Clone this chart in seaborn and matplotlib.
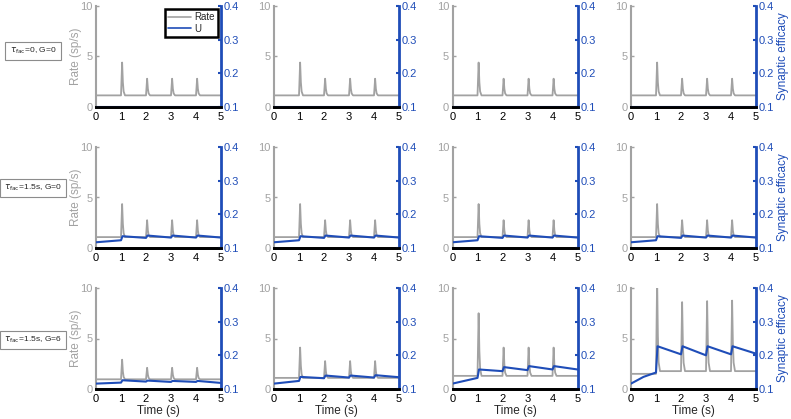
import numpy as np
import pandas as pd
import matplotlib
matplotlib.use("Agg")
import matplotlib.pyplot as plt
from matplotlib.lines import Line2D
import seaborn as sns

# ---------------- data ----------------
X_TICKS = [0, 1, 2, 3, 4, 5]
RATE_TICKS = [0, 5, 10]
U_TICKS = [0.1, 0.2, 0.3, 0.4]
ROW_LABELS = [r"$\tau_{\rm fac}$=0, G=0",
              r"$\tau_{\rm fac}$=1.5s, G=0",
              r"$\tau_{\rm fac}$=1.5s, G=6"]
STIM_TIMES = [1, 2, 3, 4]
# shape of one rate transient (time offsets after stimulus, fraction of peak excess)
SPIKE_DT = [0.0, 0.045, 0.075, 0.105, 0.16]
SPIKE_FRAC = [0.0, 1.0, 0.40, 0.12, 0.0]

# rate baseline before first stimulus / after, per row x column
RATE_BASE_PRE = [[1.15, 1.15, 1.15, 1.15],
                 [1.08, 1.08, 1.08, 1.08],
                 [0.96, 1.10, 1.30, 1.50]]
RATE_BASE_POST = [[1.15, 1.15, 1.15, 1.15],
                  [1.08, 1.08, 1.08, 1.08],
                  [0.96, 1.10, 1.30, 1.77]]
RATE_PEAKS_ROW1 = [[4.4, 2.8, 2.8, 2.8], [4.4, 2.8, 2.8, 2.8],
                   [4.4, 2.8, 2.8, 2.8], [4.4, 2.8, 2.8, 2.8]]
RATE_PEAKS_ROW2 = [[4.35, 2.75, 2.75, 2.75], [4.35, 2.75, 2.75, 2.75],
                   [4.35, 2.75, 2.75, 2.75], [4.35, 2.75, 2.75, 2.75]]
RATE_PEAKS_ROW3 = [[2.9, 2.1, 2.1, 2.1], [4.1, 2.76, 2.76, 2.76],
                   [7.5, 4.1, 4.1, 4.1], [11.0, 8.6, 8.7, 8.75]]

U_TIME = [0, 1.0, 1.06, 2.0, 2.06, 3.0, 3.06, 4.0, 4.06, 5.0]
U_TIME_CURVED = [0, 0.5, 1.0, 1.06, 2.0, 2.06, 3.0, 3.06, 4.0, 4.06, 5.0]
U_ROW1 = [[0.1, 0.1, 0.1, 0.1, 0.1, 0.1, 0.1, 0.1, 0.1, 0.1]] * 4
U_ROW2 = [[0.117, 0.123, 0.135, 0.130, 0.137, 0.131, 0.137, 0.131, 0.137, 0.131]] * 4
U_ROW3_C1 = [0.116, 0.119, 0.126, 0.122, 0.125, 0.121, 0.124, 0.121, 0.124, 0.118]
U_ROW3_C2 = [0.116, 0.124, 0.136, 0.132, 0.140, 0.134, 0.140, 0.134, 0.141, 0.135]
U_ROW3_C3 = [0.116, 0.133, 0.158, 0.153, 0.165, 0.156, 0.168, 0.158, 0.168, 0.158]
U_ROW3_C4 = [0.116, 0.136, 0.149, 0.227, 0.203, 0.227, 0.200, 0.227, 0.203, 0.227, 0.205]

# ---------------- style ----------------
sns.set_style("white")
plt.rcParams["font.family"] = ["Liberation Sans", "DejaVu Sans"]
plt.rcParams["mathtext.fontset"] = "dejavusans"
GRAY = "#a2a2a2"
BLUE = "#1f4db8"

W, H = 791, 419
fig = plt.figure(figsize=(W / 100, H / 100), dpi=100)

COL_LEFT = [96, 274, 452.5, 631]
ROW_TOP = [6, 147, 288]
AX_W, AX_H = 125, 101


def rate_series(pre, post, peaks):
    t, v = [0.0], [pre]
    for i, s in enumerate(STIM_TIMES):
        b = pre if i == 0 else post
        for dt, f in zip(SPIKE_DT[:-1], SPIKE_FRAC[:-1]):
            t.append(s + dt)
            v.append(b + f * (peaks[i] - b))
        t.append(s + SPIKE_DT[-1])
        v.append(post)
    t.append(5.0)
    v.append(post)
    return pd.DataFrame({"t": t, "rate": v})


peaks_rows = [RATE_PEAKS_ROW1, RATE_PEAKS_ROW2, RATE_PEAKS_ROW3]
u_rows = [U_ROW1, U_ROW2, [U_ROW3_C1, U_ROW3_C2, U_ROW3_C3, U_ROW3_C4]]

for r in range(3):
    for c in range(4):
        left = COL_LEFT[c] / W
        bottom = 1 - (ROW_TOP[r] + AX_H) / H
        ax = fig.add_axes([left, bottom, AX_W / W, AX_H / H])
        ax2 = ax.twinx()

        df_r = rate_series(RATE_BASE_PRE[r][c], RATE_BASE_POST[r][c], peaks_rows[r][c])
        sns.lineplot(data=df_r, x="t", y="rate", ax=ax, color=GRAY, lw=1.3,
                     estimator=None, sort=False)
        uvals = u_rows[r][c]
        ut = U_TIME_CURVED if len(uvals) == len(U_TIME_CURVED) else U_TIME
        df_u = pd.DataFrame({"t": ut, "U": uvals})
        sns.lineplot(data=df_u, x="t", y="U", ax=ax2, color=BLUE, lw=1.5,
                     estimator=None, sort=False)

        ax.set_xlim(0, 5)
        ax.set_ylim(0, 10)
        ax2.set_ylim(0.1, 0.4)
        ax.set_xticks(X_TICKS)
        ax.set_yticks(RATE_TICKS)
        ax2.set_yticks(U_TICKS)
        ax2.set_yticklabels([f"{v:.1f}" for v in U_TICKS])

        for sp in ["top", "right"]:
            ax.spines[sp].set_visible(False)
        ax.spines["left"].set_color(GRAY)
        ax.spines["left"].set_linewidth(1.5)
        ax.spines["bottom"].set_color("black")
        ax.spines["bottom"].set_linewidth(2)
        for sp in ["top", "left"]:
            ax2.spines[sp].set_visible(False)
        ax2.spines["right"].set_color(BLUE)
        ax2.spines["right"].set_linewidth(2)
        ax2.spines["bottom"].set_color("black")
        ax2.spines["bottom"].set_linewidth(2)

        ax.tick_params(axis="x", direction="in", length=2.5, width=1.5,
                       colors="black", labelsize=8, pad=3.5)
        ax.tick_params(axis="y", direction="in", length=2, width=1,
                       color=GRAY, labelcolor=GRAY, labelsize=8, pad=2.5)
        ax2.tick_params(axis="y", direction="in", length=2.5, width=1.5,
                        color=BLUE, labelcolor=BLUE, labelsize=8, pad=2)

        ax.set_xlabel("Time (s)" if r == 2 else "", fontsize=8.5, labelpad=1)
        ax.set_ylabel("Rate (sp/s)" if c == 0 else "", color=GRAY, fontsize=8.5,
                      labelpad=-1)
        ax2.set_ylabel("Synaptic efficacy" if c == 3 else "", color=BLUE,
                       fontsize=8.5, labelpad=2)

        if r == 0 and c == 0:
            handles = [Line2D([], [], color=GRAY, lw=1.2),
                       Line2D([], [], color=BLUE, lw=1.2)]
            leg = ax2.legend(handles, ["Rate", "U"], loc="upper right",
                             fontsize=7, frameon=True, fancybox=False,
                             framealpha=1, handlelength=2.4, handletextpad=0.3,
                             borderpad=0.35, labelspacing=0.15,
                             borderaxespad=0.3)
            leg.get_frame().set_edgecolor("black")
            leg.get_frame().set_linewidth(1.8)

ROW_LABEL_Y = [51, 188, 340]
for r in range(3):
    fig.text(33 / W, 1 - ROW_LABEL_Y[r] / H, ROW_LABELS[r], ha="center",
             va="center", fontsize=6.1,
             bbox=dict(boxstyle="square,pad=0.5", fc="white", ec="#8c8c8c",
                       lw=0.8))

fig.savefig("out.png", dpi=100)
